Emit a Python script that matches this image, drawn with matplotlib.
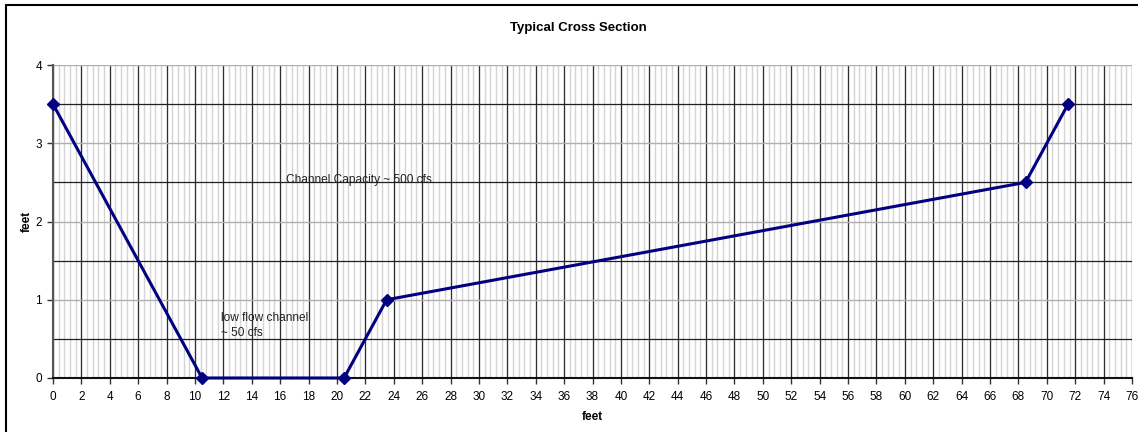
import numpy as np
import matplotlib.pyplot as plt
from matplotlib.patches import Rectangle

plt.rcParams['font.family'] = ['Liberation Sans', 'DejaVu Sans']

# cross-section survey points
station_ft = [0, 10.5, 20.5, 23.5, 68.5, 71.5]
depth_ft = [3.5, 0, 0, 1, 2.5, 3.5]

notes = ["low flow channel\n~ 50 cfs", "Channel Capacity ~ 500 cfs"]
note_pos = [(11.85, 0.67), (16.4, 2.53)]

W, H = 1138, 432
fig = plt.figure(figsize=(W / 100, H / 100), dpi=100)
ax = fig.add_axes([53 / W, 1 - 378 / H, (1132 - 53) / W, (378 - 65) / H])

ax.set_xlim(0, 76)
ax.set_ylim(0, 4)

# vertical grid: light every 0.4, dark every 2
for x in np.arange(0, 76.01, 0.4):
    ax.axvline(x, color='#d4d4d4', lw=1, zorder=0)
for x in np.arange(0, 76.01, 2):
    ax.axvline(x, color='#303030', lw=0.9, zorder=0.5)
# horizontal grid: gray at integers, dark at halves
for y in np.arange(1, 4.01, 1):
    ax.axhline(y, color='#b0b0b0', lw=1, zorder=0.6)
for y in np.arange(0.5, 4, 1):
    ax.axhline(y, color='#202020', lw=0.9, zorder=0.6)

ax.plot(station_ft, depth_ft, color='#000080', lw=2.2, marker='D', ms=6.5,
        zorder=3, clip_on=False)

for txt, (x, y) in zip(notes, note_pos):
    ax.text(x, y, txt, fontsize=8.6, color='#222222', va='center', ha='left',
            linespacing=1.25, zorder=4)

ax.set_xticks(np.arange(0, 77, 2))
ax.set_yticks(np.arange(0, 5, 1))
ax.tick_params(labelsize=8.5, length=4, width=1, color='#333333')
ax.tick_params(axis='x', pad=5)
ax.tick_params(axis='y', pad=4)
for side in ['top', 'right']:
    ax.spines[side].set_visible(False)
for side in ['left', 'bottom']:
    ax.spines[side].set_color('#555555')
    ax.spines[side].set_linewidth(1.5)
ax.spines['bottom'].set_color('#111111')

ax.set_xlabel('feet', fontsize=8.5, fontweight='bold', labelpad=6)
ax.set_ylabel('feet', fontsize=8.5, fontweight='bold', labelpad=2)
fig.text(578 / W, 1 - 28 / H, 'Typical Cross Section', fontsize=9.5,
         fontweight='bold', ha='center', va='center')

fig.patches.append(Rectangle((6 / W, -0.1), 1.2, 1 - 5 / H + 0.1,
                             transform=fig.transFigure, fill=False,
                             edgecolor='black', lw=1.5))

fig.savefig('out.png', dpi=100)
